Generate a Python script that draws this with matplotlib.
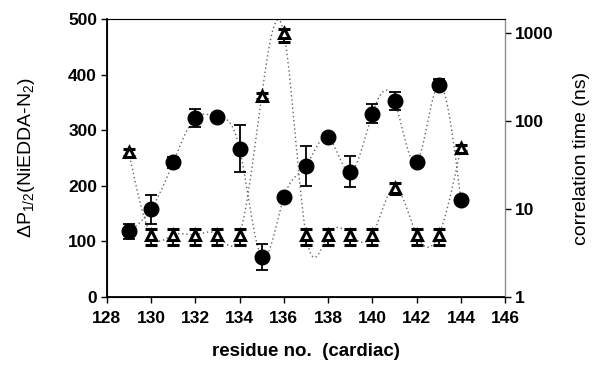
import numpy as np
import matplotlib
matplotlib.use("Agg")
import matplotlib.pyplot as plt

plt.rcParams['font.family'] = ['Liberation Sans', 'DejaVu Sans']
plt.rcParams['mathtext.fontset'] = 'custom'
plt.rcParams['mathtext.rm'] = 'Liberation Sans'
plt.rcParams['mathtext.it'] = 'Liberation Sans'

residues = [129, 130, 131, 132, 133, 134, 135, 136, 137, 138, 139, 140, 141, 142, 143, 144]
dP = [118, 158, 242, 322, 324, 267, 72, 179, 236, 287, 225, 330, 353, 242, 382, 174]
dP_err = [13, 26, 10, 16, 0, 42, 24, 0, 36, 0, 28, 17, 16, 0, 10, 0]
tau = [44, 5.1, 5.1, 5.1, 5.1, 5.1, 195, 1000, 5.1, 5.1, 5.1, 5.1, 17.5, 5.1, 5.1, 50]
tau_lo = [40, 3.9, 3.9, 3.9, 3.9, 3.9, 180, 800, 3.9, 3.9, 3.9, 3.9, 15, 3.9, 3.9, 46]
tau_hi = [48, 6.0, 6.0, 6.0, 6.0, 6.0, 210, 1120, 6.0, 6.0, 6.0, 6.0, 20, 6.0, 6.0, 54]


def natural_spline(x, y, n=400):
    x = np.asarray(x, float)
    y = np.asarray(y, float)
    m = len(x)
    h = np.diff(x)
    A = np.zeros((m, m))
    b = np.zeros(m)
    A[0, 0] = A[-1, -1] = 1
    for i in range(1, m - 1):
        A[i, i - 1] = h[i - 1]
        A[i, i] = 2 * (h[i - 1] + h[i])
        A[i, i + 1] = h[i]
        b[i] = 3 * ((y[i + 1] - y[i]) / h[i] - (y[i] - y[i - 1]) / h[i - 1])
    c = np.linalg.solve(A, b)
    xs = np.linspace(x[0], x[-1], n)
    idx = np.clip(np.searchsorted(x, xs) - 1, 0, m - 2)
    dx = xs - x[idx]
    bb = (y[1:] - y[:-1]) / h - h * (2 * c[:-1] + c[1:]) / 3
    d = (c[1:] - c[:-1]) / (3 * h)
    ys = y[idx] + bb[idx] * dx + c[idx] * dx ** 2 + d[idx] * dx ** 3
    return xs, ys


fig = plt.figure(figsize=(5.93, 3.67), dpi=100)
ax = fig.add_axes([0.180, 0.191, 0.672, 0.757])
ax2 = ax.twinx()

dot = (0, (1, 2))
# circles (left axis)
xs, ys = natural_spline(residues, dP)
ax.plot(xs, ys, linestyle=dot, color='#666666', lw=1.0, zorder=1)
ax.errorbar(residues, dP, yerr=dP_err, fmt='o', color='black', ms=10.5,
            capsize=4, elinewidth=1.3, capthick=1.3, zorder=3)

# triangles (right axis, log)
xs2, ls2 = natural_spline(residues, np.log10(tau))
ax2.plot(xs2, 10 ** ls2, linestyle=dot, color='#666666', lw=1.0, zorder=1)
t = np.array(tau)
yerr2 = [t - np.array(tau_lo), np.array(tau_hi) - t]
ax2.errorbar(residues, tau, yerr=yerr2, fmt='^', mfc='white', mec='black',
             mew=2.2, ms=6.5, ecolor='black', capsize=4, elinewidth=1.3,
             capthick=1.3, zorder=3)

ax.set_xlim(128, 146)
ax.set_ylim(0, 500)
ax2.set_yscale('log')
ax2.set_ylim(1, 1450)
ax.set_xticks(range(128, 147, 2))
ax.set_yticks(range(0, 501, 100))
ax2.set_yticks([1, 10, 100, 1000])
ax2.set_yticklabels(['1', '10', '100', '1000'])
ax2.yaxis.set_minor_locator(matplotlib.ticker.NullLocator())

for a in (ax, ax2):
    a.tick_params(direction='out', length=4, width=1, labelsize=12.5, pad=3)
    for lab in a.get_xticklabels() + a.get_yticklabels():
        lab.set_fontweight('bold')
ax.tick_params(axis='x', pad=6)
ax.spines['left'].set_linewidth(1.3)
ax.spines['bottom'].set_linewidth(1.3)
ax.spines['top'].set_color('#888888')
ax.spines['top'].set_linewidth(0.8)
ax2.spines['right'].set_color('#888888')
ax2.spines['right'].set_linewidth(0.8)

ax.set_ylabel(r'$\Delta$P$_{1/2}$(NiEDDA-N$_2$)', fontsize=14)
ax.yaxis.set_label_coords(-0.176, 0.5)
ax2.set_ylabel('correlation time (ns)', fontsize=14, rotation=90)
ax2.yaxis.set_label_coords(1.17, 0.5)
ax.set_xlabel('residue no.  (cardiac)', fontsize=13.5, fontweight='bold')
ax.xaxis.set_label_coords(0.5, -0.165)

fig.savefig('out.png', dpi=100)
